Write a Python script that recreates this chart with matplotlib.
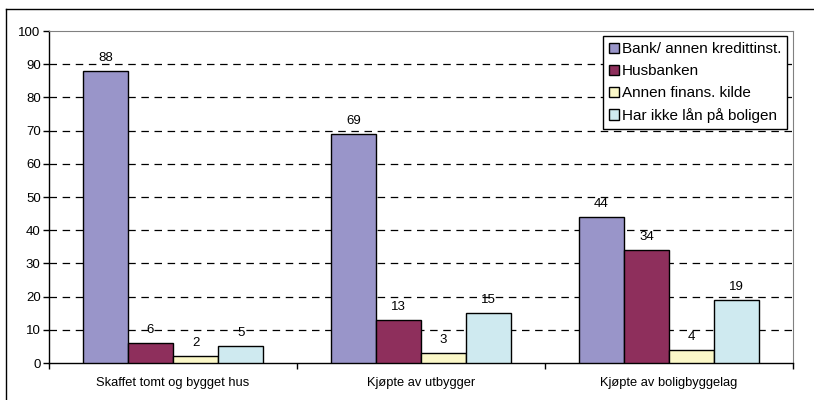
import matplotlib
matplotlib.use("Agg")
import matplotlib.pyplot as plt
from matplotlib.lines import Line2D
import numpy as np

categories = ["Skaffet tomt og bygget hus", "Kjøpte av utbygger", "Kjøpte av boligbyggelag"]
series_names = ["Bank/ annen kredittinst.", "Husbanken", "Annen finans. kilde", "Har ikke lån på boligen"]
bank = [88, 69, 44]
husbanken = [6, 13, 34]
annen = [2, 3, 4]
har_ikke = [5, 15, 19]
yticks = [0, 10, 20, 30, 40, 50, 60, 70, 80, 90, 100]

colors = ["#9995C9", "#8E2F5C", "#FBF8C8", "#CFEAF0"]
values = [bank, husbanken, annen, har_ikke]

plt.rcParams['font.family'] = ['Liberation Sans', 'DejaVu Sans']

W, H = 814, 400
fig = plt.figure(figsize=(W / 100, H / 100), dpi=100)
ax = fig.add_axes([49 / W, (H - 363) / H, (793 - 49) / W, (363 - 31) / H])

# outer border (only left/top visible in reference)
fig.add_artist(Line2D([5.5 / W, 5.5 / W], [0, 1 - 8.5 / H], transform=fig.transFigure,
                      color="black", linewidth=1.0))
fig.add_artist(Line2D([5.5 / W, 1], [1 - 8.5 / H, 1 - 8.5 / H], transform=fig.transFigure,
                      color="black", linewidth=1.0))

x = np.arange(len(categories))
w = 1 / 5.5
for i, (vals, col, name) in enumerate(zip(values, colors, series_names)):
    pos = x + (i - 1.5) * w
    ax.bar(pos, vals, width=w, color=col, edgecolor="black", linewidth=1.0,
           label=name, zorder=3)
    for p, v in zip(pos, vals):
        ax.annotate(str(v), (p, v), xytext=(0, 5), textcoords="offset points",
                    ha="center", va="bottom", fontsize=9.5, zorder=4)

ax.set_xlim(-0.5, len(categories) - 0.5)
ax.set_ylim(0, 100)
ax.set_yticks(yticks)
ax.tick_params(axis="y", direction="out", length=4, width=1, labelsize=9.5, pad=2)
for yv in yticks[1:-1]:
    ax.axhline(yv, color="black", linewidth=0.9, dashes=(6, 4.5), zorder=1)

ax.set_xticks(x)
ax.set_xticklabels(categories, fontsize=9.3)
ax.tick_params(axis="x", which="major", length=0, pad=10)
ax.set_xticks(np.arange(-0.5, len(categories), 1.0), minor=True)
ax.tick_params(axis="x", which="minor", direction="out", length=4, width=1, color="black")

ax.spines["left"].set_color("black")
ax.spines["bottom"].set_color("black")
ax.spines["left"].set_linewidth(1.0)
ax.spines["bottom"].set_linewidth(1.0)
ax.spines["top"].set_color("#808080")
ax.spines["right"].set_color("#808080")

leg = ax.legend(loc="upper right", bbox_to_anchor=(787 / W, 1 - 36 / H),
                bbox_transform=fig.transFigure, fontsize=11, frameon=True,
                fancybox=False, edgecolor="black", framealpha=1,
                handlelength=0.65, handleheight=0.65, handletextpad=0.15,
                borderpad=0.4, labelspacing=0.52, borderaxespad=0)
leg.get_frame().set_linewidth(1.0)
leg.set_zorder(5)

fig.savefig("out.png", dpi=100)
